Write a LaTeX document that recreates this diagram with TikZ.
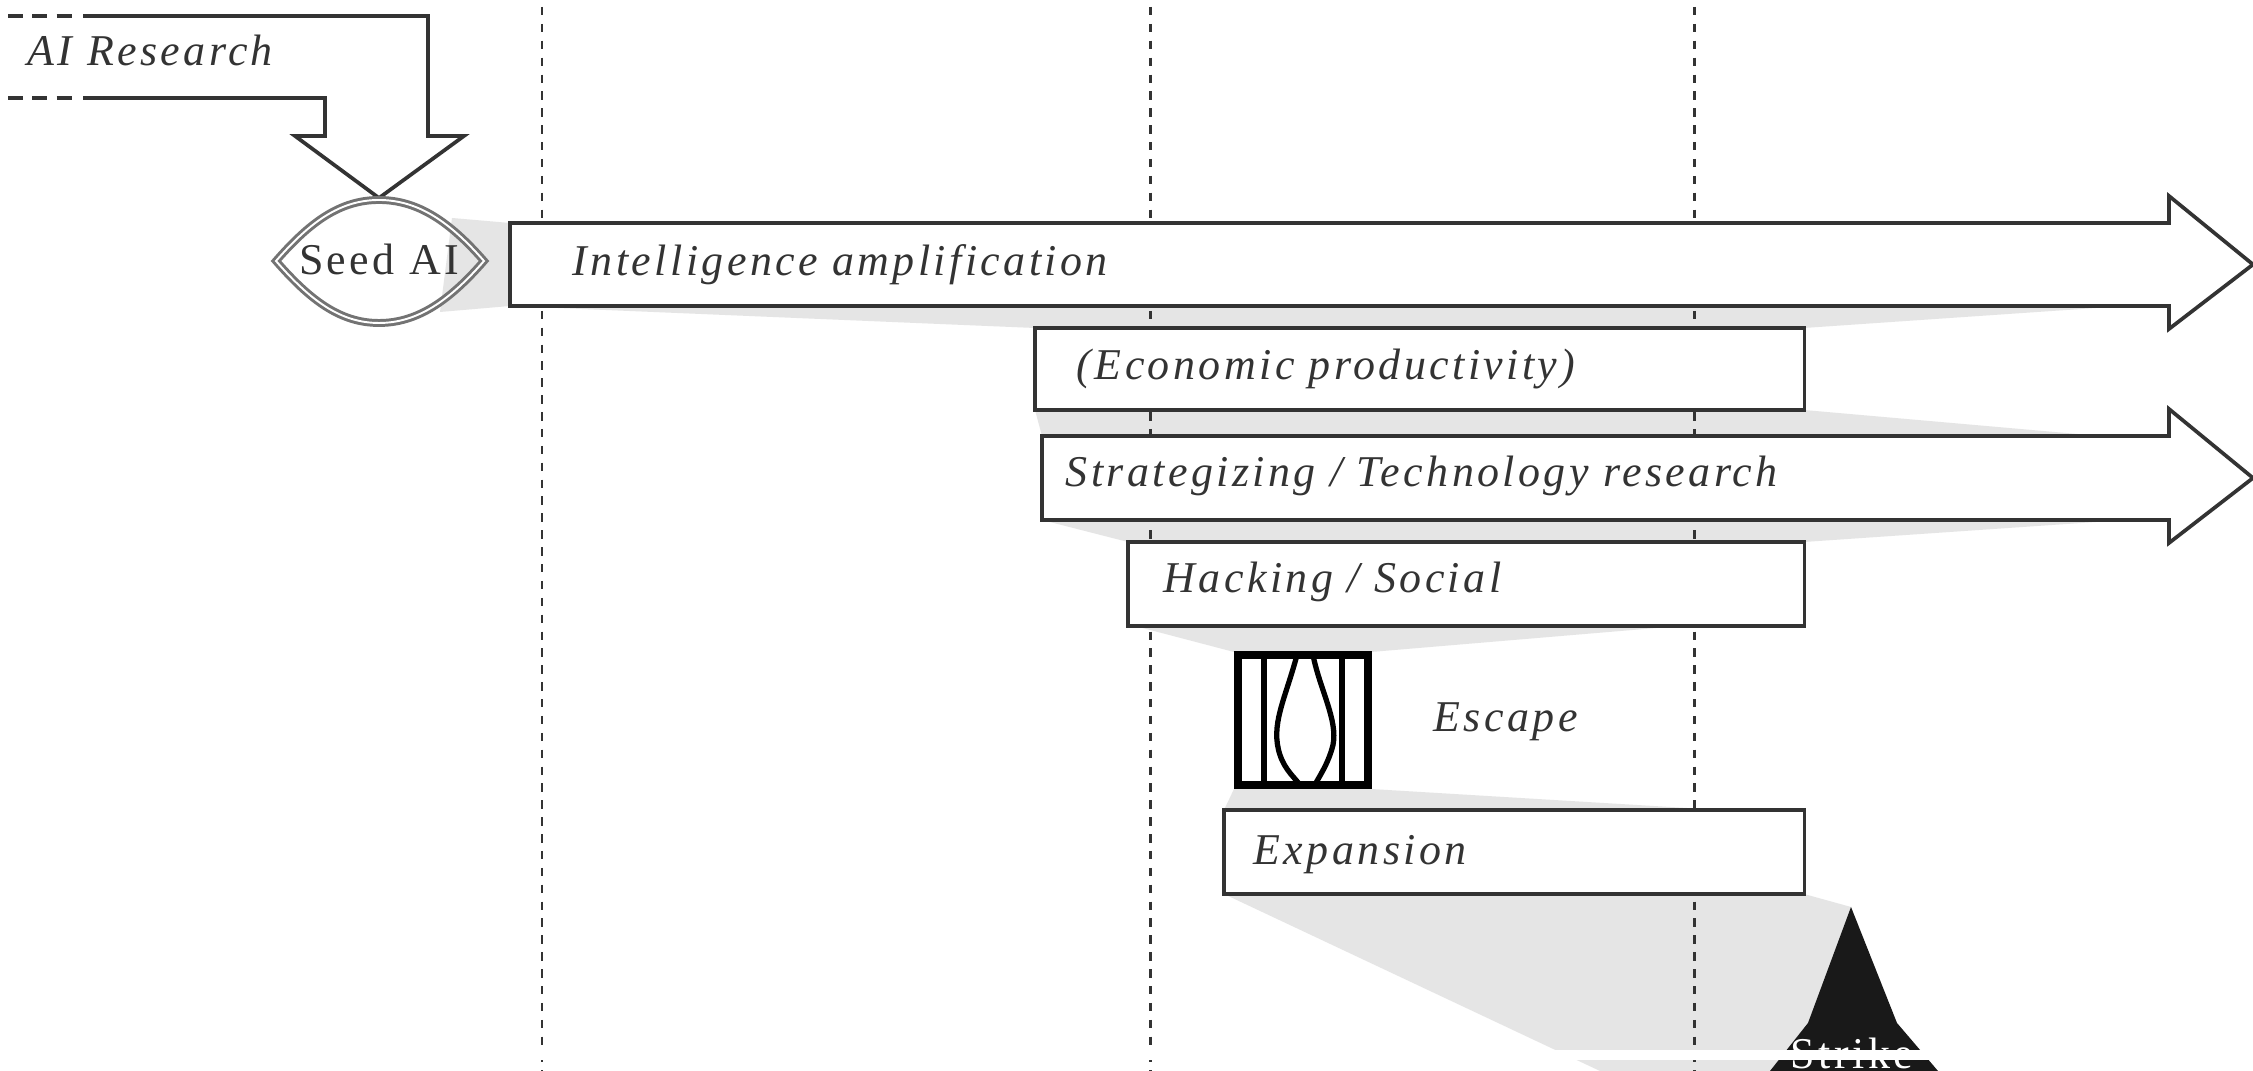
\documentclass[tikz,border=0pt]{standalone}
\usepackage{fontspec}
\usepackage{tikz}
\usetikzlibrary{calc}
\newfontfamily\diagfont[LetterSpace=7.8]{Liberation Serif}
\definecolor{shadegray}{gray}{0.90}
\definecolor{inkgray}{gray}{0.2}

\begin{document}
\begin{tikzpicture}[
    x = 0.01cm, y = -0.01cm,
    outline/.style = {draw=inkgray, line width=1.05pt, line join=miter},
    box/.style = {outline, fill=white, outer sep = 0mm, inner sep = 0mm,
        anchor = north west},
    lab/.style = {inner sep = 0mm, anchor = base west, text=inkgray,
        font=\diagfont\fontsize{12.5}{15}\selectfont\itshape},
    shade/.style = {fill=shadegray},
    grid/.style = {draw=inkgray, line width=0.85pt, dash pattern=on 2.4pt off 2.4pt}
  ]
  \clip (0,0) rectangle (2253,1071);
  \fill[white] (0,0) rectangle (2253,1071);

  % where the wide arrows start and stop
  \coordinate (INTa) at (510,223);
  \coordinate (INTb) at (510,306);
  \coordinate (INTe) at (2125,306);
  \coordinate (STRa) at (1042,436);
  \coordinate (STRb) at (1042,520);
  \coordinate (STRc) at (2100,436);
  \coordinate (STRe) at (2125,520);
  \coordinate (APEX) at (1851,907);

  % fades between the stages
  \fill[shade] (452,218) -- (INTa) -- (INTb) -- (440,312) -- cycle;
  \fill[shade] (INTb) -- (1035,328) -- (1804,328) -- (INTe) -- cycle;
  \fill[shade] (1035,410) -- (STRa) -- (STRc) -- (1804,410) -- cycle;
  \fill[shade] (STRb) -- (1128,542) -- (1804,542) -- (STRe) -- cycle;
  \fill[shade] (1135,626) -- (1234,652) -- (1371,652) -- (1680,626) -- cycle;
  \fill[shade] (1234,789) -- (1224,810) -- (1720,810) -- (1371,789) -- cycle;
  \fill[shade] (1224,894) -- (1600,1071) -- (1800,1071) -- (APEX) -- (1804,894) -- cycle;

  \foreach \x in {542, 1150, 1694}
  \draw[grid] (\x,7) -- (\x,1071);

  % top input arrow
  \foreach \y in {16, 98}
  \draw[outline, dash pattern=on 4.3pt off 2.6pt] (8,\y) -- (76,\y);
  \draw[outline] (83,16) -- (428,16) -- (428,136) -- (464,136) -- (379,198)
    -- (295,136) -- (325,136) -- (325,98) -- (83,98);

  \foreach \name/\xa/\ya/\w/\h in {ECON/1035/328/7.69/0.82, HACK/1128/542/6.76/0.84, EXPA/1224/810/5.80/0.84}
  \node[box, minimum width=\w cm, minimum height=\h cm] (\name) at (\xa,\ya) {};

  \foreach \xa/\ya/\yb in {510/223/306, 1042/436/520}
  \draw[outline, fill=white] (\xa,\ya) -- (2169,\ya) -- (2169,\ya-27)
    -- (2253,{(\ya+\yb)/2}) -- (2169,\yb+23) -- (2169,\yb) -- (\xa,\yb) -- cycle;

  % seed
  \node[inner sep=0mm, anchor=base, text=inkgray, font=\diagfont\fontsize{12.5}{15}\selectfont] (SEED) at (379,275) {Seed AI};
  \draw[draw=black!55, line width=0.85pt, double=white, double distance=0.55pt] (276,261)
    .. controls (310,222) and (340,200) .. (379,200)
    .. controls (418,200) and (450,222) .. (484,261)
    .. controls (450,300) and (418,323) .. (379,323)
    .. controls (340,323) and (310,300) .. (276,261) -- cycle;

  % escape icon
  \draw[black, line width=2.3pt] (1238,655) rectangle (1368,785);
  \foreach \x in {1264, 1342}
  \draw[black, line width=1.8pt] (\x,655) -- (\x,785);
  \draw[black, line width=1.5pt] (1297,655) .. controls (1285,700) and (1270,725) .. (1280,755) .. controls (1285,770) and (1295,778) .. (1300,785);
  \draw[black, line width=1.5pt] (1313,655) .. controls (1320,690) and (1338,720) .. (1333,745) .. controls (1328,765) and (1318,778) .. (1315,785);

  \node[lab] (AIRES) at (27,66) {AI Research};
  \node[lab] (INTEL) at (572,276) {Intelligence amplification};
  \node[lab] (PROD) at (1076,380) {(Economic productivity)};
  \node[lab] (STRAT) at (1065,487) {Strategizing / Technology research};
  \node[lab] (SOCIAL) at (1163,593) {Hacking / Social};
  \node[lab] (ESC) at (1433,732) {Escape};
  \node[lab] (EXPTXT) at (1253,865) {Expansion};

  % strike
  \fill[black!90] (APEX) -- (1897,1023) -- (1938,1071) -- (1770,1071) -- (1808,1023) -- cycle;
  \node[inner sep=0mm, anchor=base, text=white, font=\diagfont\fontsize{12.5}{15}\selectfont] (STRIKE) at (1852,1069) {Strike};
  \fill[white] (0,1050) rectangle (2253,1060);
\end{tikzpicture}
\end{document}
